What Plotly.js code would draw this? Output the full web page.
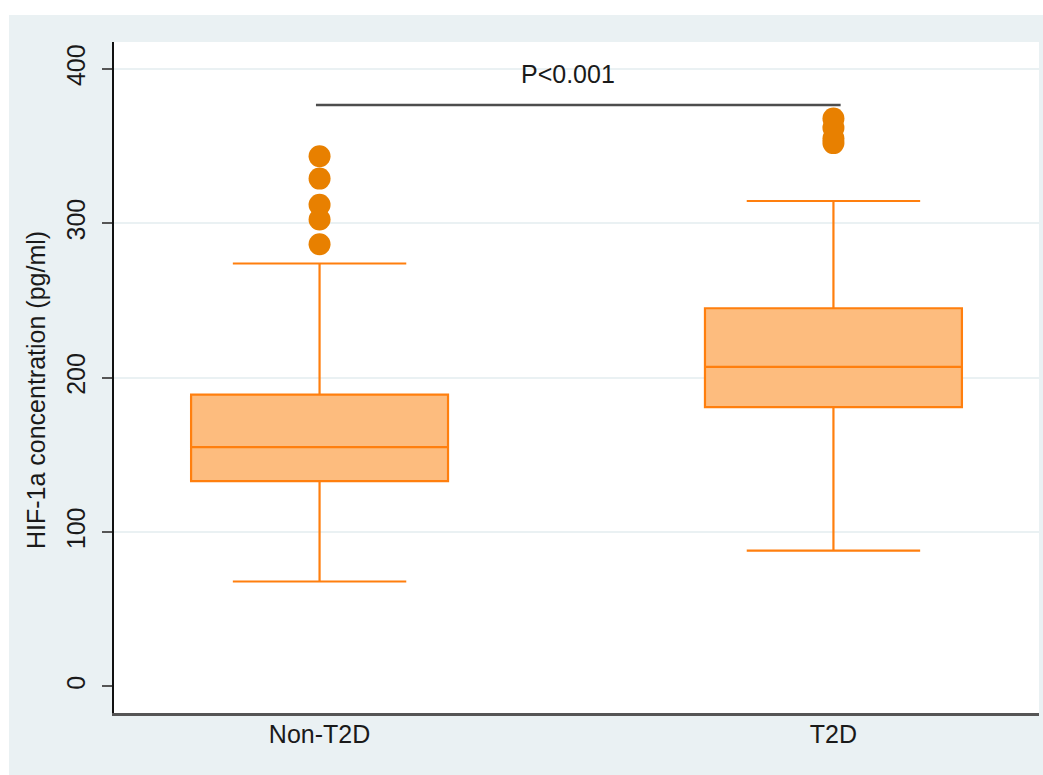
<!DOCTYPE html>
<html>
<head>
<meta charset="utf-8">
<script src="https://cdn.plot.ly/plotly-3.0.1.min.js"></script>
<style>
  html, body { margin: 0; padding: 0; background: #ffffff; width: 1043px; height: 775px; overflow: hidden; }
  #chart { position: absolute; left: 9px; top: 15px; width: 1034px; height: 760px; }
</style>
</head>
<body>
<div id="chart"></div>
<script>
// Data
const groups = ['Non-T2D', 'T2D'];
const q1Values = [133, 181];
const medianValues = [155, 207];
const q3Values = [189, 245];
const lowerWhisker = [68, 88];
const upperWhisker = [274, 314.5];

const outlierGroups = ['Non-T2D', 'Non-T2D', 'Non-T2D', 'Non-T2D', 'Non-T2D', 'T2D', 'T2D', 'T2D', 'T2D'];
const outlierValues = [343.5, 329, 312, 302.5, 286.5, 368, 362, 355, 352];

const sigText = 'P<0.001';
const sigLineY = 376.7;
const sigTextY = 397;

const yTicks = [0, 100, 200, 300, 400];
const yTitle = 'HIF-1a concentration (pg/ml)';

const font = { family: 'Liberation Sans, Arial, sans-serif', size: 25, color: '#1a1a1a' };

const traces = [
  {
    type: 'box',
    x: groups,
    q1: q1Values,
    median: medianValues,
    q3: q3Values,
    lowerfence: lowerWhisker,
    upperfence: upperWhisker,
    boxpoints: false,
    width: 0.5,
    whiskerwidth: 0.675,
    fillcolor: '#FDBC7E',
    line: { color: '#FF7F0E', width: 2.2 },
    hoverinfo: 'skip',
    showlegend: false
  },
  {
    type: 'scatter',
    mode: 'markers',
    x: outlierGroups,
    y: outlierValues,
    marker: { color: '#E88000', size: 22, line: { width: 0 } },
    hoverinfo: 'skip',
    showlegend: false
  }
];

const layout = {
  width: 1034,
  height: 760,
  paper_bgcolor: '#EAF1F3',
  plot_bgcolor: '#ffffff',
  margin: { l: 105, r: 4, t: 27, b: 62 },
  font: font,
  showlegend: false,
  xaxis: {
    type: 'category',
    range: [-0.4, 1.4],
    showgrid: false,
    zeroline: false,
    showline: true,
    linecolor: '#555555',
    linewidth: 2.5,
    ticks: '',
    ticklabelstandoff: -3,
    tickfont: font,
    automargin: false,
    fixedrange: true
  },
  yaxis: {
    range: [-17.2, 417.5],
    tickvals: yTicks,
    ticktext: yTicks.map(String),
    tickangle: -90,
    ticks: 'outside',
    ticklen: 10,
    tickwidth: 2,
    tickcolor: '#555555',
    ticklabelstandoff: 7,
    showline: true,
    linecolor: '#111111',
    linewidth: 2,
    showgrid: true,
    gridcolor: '#EAF1F3',
    gridwidth: 2,
    zeroline: true,
    zerolinecolor: '#ffffff',
    zerolinewidth: 2,
    tickfont: font,
    automargin: false,
    fixedrange: true
  },
  shapes: [
    {
      type: 'line',
      xref: 'x', yref: 'y',
      x0: -0.007, x1: 1.014,
      y0: sigLineY, y1: sigLineY,
      line: { color: '#4D4D4D', width: 2.5 }
    }
  ],
  annotations: [
    {
      xref: 'x', yref: 'y',
      x: 0.484, y: sigTextY,
      text: sigText,
      showarrow: false,
      font: font,
      xanchor: 'center', yanchor: 'middle'
    },
    {
      xref: 'paper', yref: 'paper',
      x: -0.0845, y: 0.481,
      text: yTitle,
      textangle: -90,
      showarrow: false,
      font: font,
      xanchor: 'center', yanchor: 'middle'
    }
  ]
};

Plotly.newPlot('chart', traces, layout, { displayModeBar: false, staticPlot: true });
</script>
</body>
</html>
